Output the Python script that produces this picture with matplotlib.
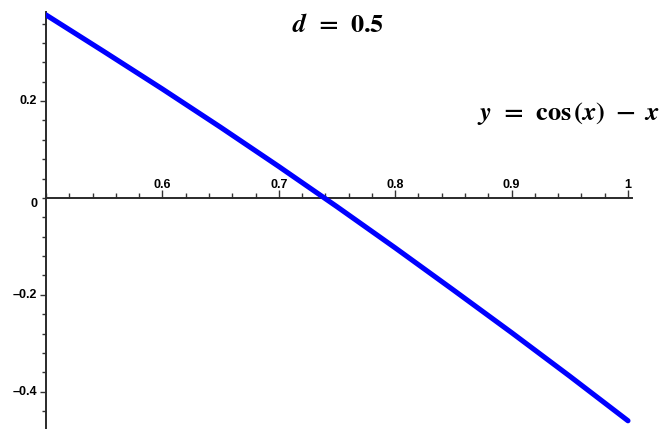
import numpy as np
import matplotlib.pyplot as plt
from matplotlib.ticker import MultipleLocator

plt.rcParams['mathtext.fontset'] = 'stix'

# sampled curve
x_vals = [0.50, 0.55, 0.60, 0.65, 0.70, 0.75, 0.80, 0.85, 0.90, 0.95, 1.00]
y_vals = [0.378, 0.302, 0.225, 0.146, 0.065, -0.018, -0.103, -0.190, -0.278, -0.368, -0.460]

x_ticks = [0.6, 0.7, 0.8, 0.9, 1.0]
x_tick_labels = ['0.6', '0.7', '0.8', '0.9', '1']
y_ticks = [-0.4, -0.2, 0.2]
y_tick_labels = ['\u20130.4', '\u20130.2', '0.2']

fig = plt.figure(figsize=(6.67, 4.29), dpi=100)
ax = fig.add_axes([0.069, 0.0, 0.8786, 0.972])

ax.plot(x_vals, y_vals, color='#0000ff', lw=3.7, solid_capstyle='round', zorder=3)

ax.set_xlim(0.5, 1.0035)
ax.set_ylim(-0.477, 0.384)

for s in ['top', 'right']:
    ax.spines[s].set_visible(False)
ax.spines['bottom'].set_position(('data', 0))
ax.spines['left'].set_position(('data', 0.5))
for s in ['bottom', 'left']:
    ax.spines[s].set_color('#2a2a2a')
    ax.spines[s].set_linewidth(1.4)

ax.set_xticks(x_ticks)
ax.set_xticklabels([])
ax.xaxis.set_minor_locator(MultipleLocator(0.02))
ax.tick_params(axis='x', which='major', direction='in', length=6, width=1.0, color='#333333')
ax.tick_params(axis='x', which='minor', direction='in', length=3.5, width=1.0, color='#333333')

ax.set_yticks(y_ticks)
ax.set_yticklabels([])
ax.yaxis.set_minor_locator(MultipleLocator(0.04))
ax.tick_params(axis='y', which='major', direction='out', length=4, width=1.0, color='#333333')
ax.tick_params(axis='y', which='minor', direction='out', length=3, width=1.0, color='#333333')

lab = dict(fontsize=9, fontweight='bold', family='Liberation Sans', color='black')
for xt, tl in zip(x_ticks, x_tick_labels):
    ax.text(xt, 0.014, tl, ha='center', va='bottom', **lab)
for yt, tl in zip(y_ticks, y_tick_labels):
    ax.text(0.4925, yt, tl, ha='right', va='center', **lab)
ax.text(0.4925, -0.013, '0', ha='right', va='center', **lab)

title = r'$\boldsymbol{d}\;\,\mathbf{=}\;\,\mathbf{0.5}$'
curve = (r'$\boldsymbol{y}\;\,\mathbf{=}\;\,\mathbf{cos}\,\mathbf{(}\boldsymbol{x}\mathbf{)}'
         r'\;\;\mathbf{-}\;\;\boldsymbol{x}$')
fig.text(0.507, 0.942, title, ha='center', va='center', fontsize=19)
fig.text(0.852, 0.735, curve, ha='center', va='center', fontsize=19)

fig.savefig('out.png', dpi=100)
